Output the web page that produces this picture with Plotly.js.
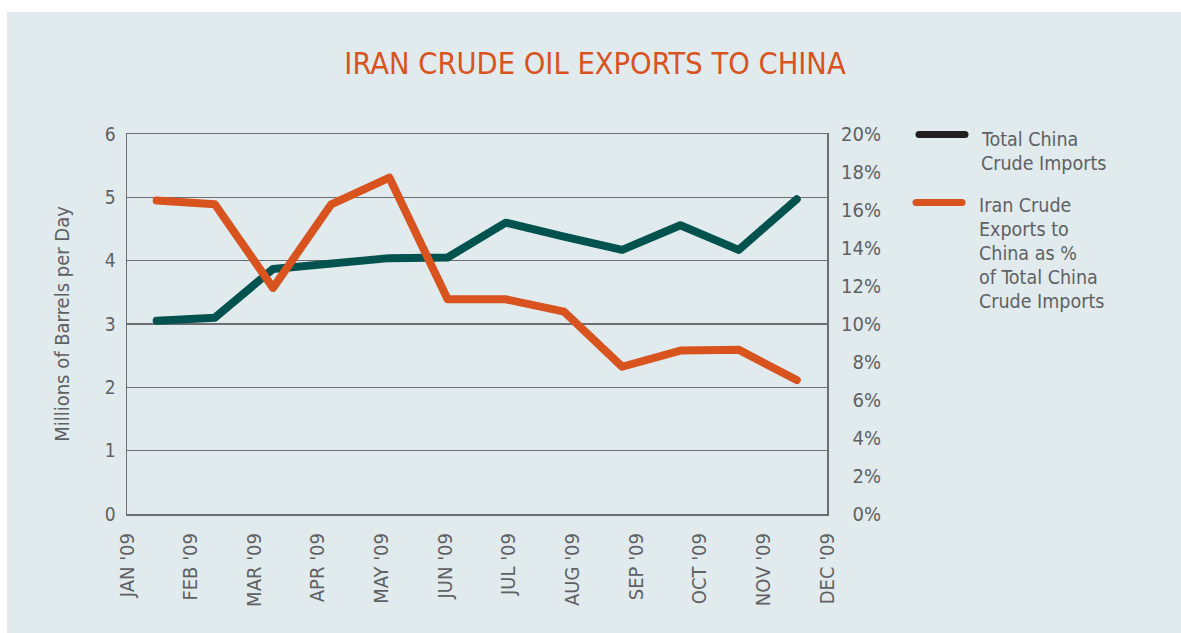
<!DOCTYPE html>
<html>
<head>
<meta charset="utf-8">
<script src="https://cdn.plot.ly/plotly-3.0.1.min.js"></script>
<style>
  html, body { margin: 0; padding: 0; background: #ffffff; width: 1181px; height: 633px; overflow: hidden; }
  #chart { position: absolute; left: 7px; top: 12px; width: 1174px; height: 621px; }
  .scatterlayer .js-line { stroke-linecap: round !important; stroke-linejoin: round !important; }
  .shapelayer path { stroke-linecap: round !important; }
</style>
</head>
<body>
<div id="chart"></div>
<script>
// ---- data ----
var monthLabels = ["JAN '09", "FEB '09", "MAR '09", "APR '09", "MAY '09", "JUN '09",
                   "JUL '09", "AUG '09", "SEP '09", "OCT '09", "NOV '09", "DEC '09"];
var monthIndex = [0, 1, 2, 3, 4, 5, 6, 7, 8, 9, 10, 11];
// Total China crude imports, millions of barrels per day
var chinaImports = [3.05, 3.10, 3.87, 3.94, 4.04, 4.05, 4.60, 4.38, 4.17, 4.56, 4.17, 4.97];
// Iran crude exports to China as % of total China crude imports
var iranShare = [16.5, 16.3, 11.9, 16.3, 17.7, 11.3, 11.3, 10.65, 7.75, 8.6, 8.65, 7.05];
var leftTicks = [0, 1, 2, 3, 4, 5, 6];
var rightTicks = [0, 2, 4, 6, 8, 10, 12, 14, 16, 18, 20];
var rightTickText = ["0%", "2%", "4%", "6%", "8%", "10%", "12%", "14%", "16%", "18%", "20%"];
var legendNames = [["Total China", "Crude Imports"],
                   ["Iran Crude", "Exports to", "China as %", "of Total China", "Crude Imports"]];

// ---- style ----
var FONT = '"DejaVu Sans Condensed", "DejaVu Sans", sans-serif';
var GRAY = '#5f6163';
var LINEGRAY = '#6d6e71';
var TEAL = '#00524e';
var ORANGE = '#d9531e';
var BG = '#e1eaed';

var W = 1174, H = 621;
var M = {l: 120, r: 20, t: 122, b: 119};
var PW = W - M.l - M.r;      // paper width
var PH = H - M.t - M.b;      // paper height
var plotW = 700;
// helpers: page pixel -> paper coords
function px(x) { return (x - 7 - M.l) / PW; }
function py(y) { return 1 - (y - 12 - M.t) / PH; }

var noValues = monthIndex.map(function () { return null; });

var traces = [
  {
    x: monthIndex, y: chinaImports, xaxis: 'x', yaxis: 'y',
    type: 'scatter', mode: 'lines', name: 'Total China Crude Imports',
    line: {color: TEAL, width: 8}, showlegend: false, hoverinfo: 'y'
  },
  {
    x: monthIndex, y: iranShare, xaxis: 'x', yaxis: 'y2',
    type: 'scatter', mode: 'lines', name: 'Iran Crude Exports to China as % of Total China Crude Imports',
    line: {color: ORANGE, width: 8}, showlegend: false, hoverinfo: 'y'
  },
  {
    // carries the month axis (tick labels only, no marks)
    x: monthIndex, y: noValues, xaxis: 'x2', yaxis: 'y',
    type: 'scatter', mode: 'none', showlegend: false, hoverinfo: 'skip'
  }
];

var shapes = [
  {type: 'line', xref: 'paper', yref: 'paper', x0: px(919), x1: px(965), y0: py(134.5), y1: py(134.5),
   line: {color: '#231f20', width: 7}},
  {type: 'line', xref: 'paper', yref: 'paper', x0: px(916), x1: px(962), y0: py(202.5), y1: py(202.5),
   line: {color: ORANGE, width: 7}}
];

var annotations = [];
var legendX = [979, 977];
var legendTop = [139, 205];
legendNames.forEach(function (lines, k) {
  lines.forEach(function (t, i) {
    annotations.push({
      text: t, xref: 'paper', yref: 'paper', x: px(legendX[k]), y: py(legendTop[k] + i * 24),
      xanchor: 'left', yanchor: 'middle', showarrow: false, align: 'left',
      font: {family: FONT, size: 19.5, color: GRAY}
    });
  });
});

var layout = {
  width: W, height: H,
  margin: M,
  paper_bgcolor: BG, plot_bgcolor: 'rgba(0,0,0,0)',
  showlegend: false,
  font: {family: FONT, color: GRAY},
  title: {
    text: 'IRAN CRUDE OIL EXPORTS TO CHINA',
    font: {family: FONT, size: 30.5, color: ORANGE},
    xref: 'container', yref: 'container', x: (595 - 7) / W, y: 1 - (63 - 12) / H,
    xanchor: 'center', yanchor: 'middle'
  },
  xaxis: {
    domain: [0, plotW / PW], range: [-0.51, 11.52],
    showticklabels: false, ticks: '', showgrid: false, zeroline: false,
    showline: true, mirror: true, linecolor: LINEGRAY, linewidth: 1.5, fixedrange: true
  },
  xaxis2: {
    overlaying: 'x', anchor: 'y', side: 'bottom', range: [0, 11],
    tickmode: 'array', tickvals: monthIndex, ticktext: monthLabels,
    tickangle: -90, ticks: '', ticklabelstandoff: 14,
    tickfont: {family: FONT, size: 20, color: GRAY},
    showgrid: false, zeroline: false, showline: false, fixedrange: true
  },
  yaxis: {
    range: [0, 6], tickmode: 'array', tickvals: leftTicks,
    tickfont: {family: FONT, size: 19, color: GRAY}, ticks: '', ticklabelstandoff: 6,
    showgrid: true, gridcolor: LINEGRAY, gridwidth: 1.5, zeroline: false,
    showline: true, mirror: true, linecolor: LINEGRAY, linewidth: 1.5,
    title: {text: 'Millions of Barrels per Day', font: {family: FONT, size: 20, color: GRAY}, standoff: 30},
    fixedrange: true
  },
  yaxis2: {
    overlaying: 'y', anchor: 'free', side: 'left', position: px(881),
    range: [0, 20], tickmode: 'array', tickvals: rightTicks, ticktext: rightTickText,
    tickfont: {family: FONT, size: 20, color: GRAY}, ticks: '',
    showgrid: false, zeroline: false, showline: false, fixedrange: true
  },
  shapes: shapes,
  annotations: annotations
};

Plotly.newPlot('chart', traces, layout, {displayModeBar: false, staticPlot: true});
</script>
</body>
</html>
